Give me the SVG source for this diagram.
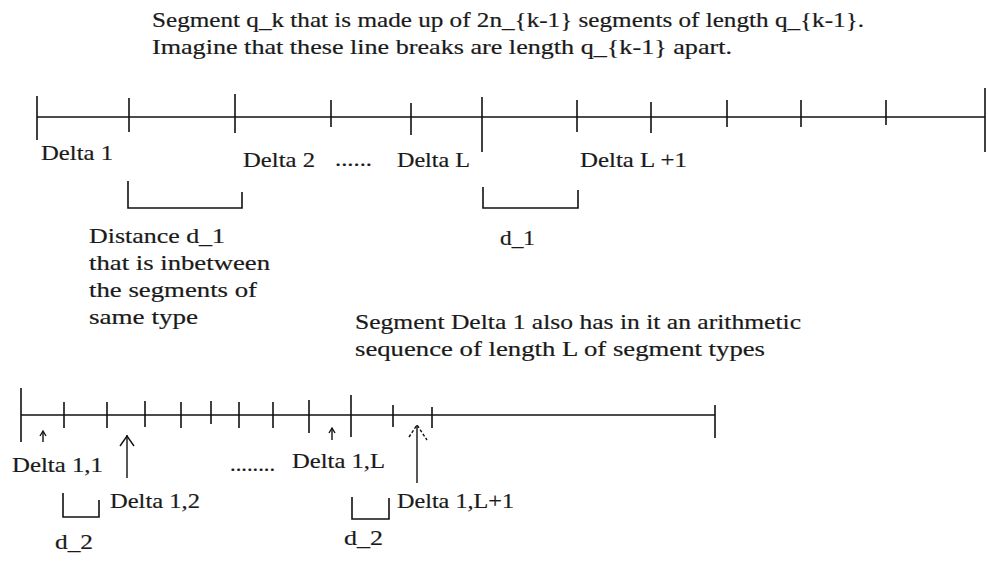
<svg xmlns="http://www.w3.org/2000/svg" width="988" height="561" viewBox="0 0 988 561">
<style>
text{font-family:"Liberation Serif","Times New Roman",serif;font-size:22px;fill:#1a1a1a;stroke:#1a1a1a;stroke-width:0.2}
.ln{stroke:#111;stroke-width:1.6;fill:none}
.ar{stroke:#111;stroke-width:1.4;fill:none}
</style>
<rect width="988" height="561" fill="#fff"/>
<g id="title">
<text x="152" y="27" textLength="712" lengthAdjust="spacingAndGlyphs">Segment q_k that is made up of 2n_{k-1} segments of length q_{k-1}.</text>
<text x="152" y="54" textLength="580" lengthAdjust="spacingAndGlyphs">Imagine that these line breaks are length q_{k-1} apart.</text>
</g>
<g id="connectors">
<g id="top-line" class="ln">
<line x1="37" y1="117" x2="985" y2="117"/>
<line x1="37" y1="96" x2="37" y2="140"/>
<line x1="129" y1="98" x2="129" y2="132"/>
<line x1="235" y1="94" x2="235" y2="133"/>
<line x1="331" y1="100" x2="331" y2="127"/>
<line x1="411" y1="103" x2="411" y2="135"/>
<line x1="482" y1="97" x2="482" y2="152"/>
<line x1="577" y1="100" x2="577" y2="132"/>
<line x1="651" y1="102" x2="651" y2="133"/>
<line x1="727" y1="100" x2="727" y2="127"/>
<line x1="801" y1="100" x2="801" y2="127"/>
<line x1="886" y1="100" x2="886" y2="125"/>
<line x1="985" y1="88" x2="985" y2="152"/>
</g>
<g id="brackets-d1" class="ln">
<polyline points="128,181 128,208 242,208 242,192"/>
<polyline points="483,187 483,208 578,208 578,190"/>
</g>
<g id="bottom-line" class="ln">
<line x1="21" y1="415" x2="715" y2="415"/>
<line x1="21" y1="388" x2="21" y2="442"/>
<line x1="64" y1="402" x2="64" y2="428"/>
<line x1="107" y1="402" x2="107" y2="428"/>
<line x1="145" y1="401" x2="145" y2="427"/>
<line x1="181" y1="402" x2="181" y2="428"/>
<line x1="211" y1="401" x2="211" y2="424"/>
<line x1="239" y1="402" x2="239" y2="428"/>
<line x1="273" y1="402" x2="273" y2="428"/>
<line x1="309" y1="400" x2="309" y2="433"/>
<line x1="351" y1="395" x2="351" y2="437"/>
<line x1="393" y1="405" x2="393" y2="427"/>
<line x1="432" y1="407" x2="432" y2="428"/>
<line x1="715" y1="405" x2="715" y2="438"/>
</g>
<g id="brackets-d2" class="ln">
<polyline points="63,493 63,517 99,517 99,500"/>
<polyline points="352,497 352,519 389,519 389,498"/>
</g>
<g id="arrows" class="ar">
<line x1="43" y1="431" x2="43" y2="442"/>
<polyline points="40,436 43,431 46,436"/>
<line x1="127" y1="435" x2="127" y2="478"/>
<polyline points="120,446 127,436 134,446"/>
<line x1="332" y1="428" x2="332" y2="440"/>
<polyline points="329,433 332,428 335,433"/>
<line x1="417" y1="425" x2="417" y2="483"/>
<polyline points="409,437 417,425 427,440" stroke-dasharray="3 2"/>
</g>
</g>
<g id="top-labels">
<text x="41" y="160" textLength="72" lengthAdjust="spacingAndGlyphs">Delta 1</text>
<text x="243" y="167" textLength="72" lengthAdjust="spacingAndGlyphs">Delta 2</text>
<text x="335" y="166" textLength="37" lengthAdjust="spacingAndGlyphs">......</text>
<text x="397" y="167" textLength="73" lengthAdjust="spacingAndGlyphs">Delta L</text>
<text x="580" y="167" textLength="107" lengthAdjust="spacingAndGlyphs">Delta L +1</text>
</g>
<g id="note-d1">
<text x="89" y="243" textLength="136" lengthAdjust="spacingAndGlyphs">Distance d_1</text>
<text x="89" y="270" textLength="181" lengthAdjust="spacingAndGlyphs">that is inbetween</text>
<text x="89" y="297" textLength="168" lengthAdjust="spacingAndGlyphs">the segments of</text>
<text x="89" y="324" textLength="109" lengthAdjust="spacingAndGlyphs">same type</text>
</g>
<g id="label-d1">
<text x="500" y="245" textLength="35" lengthAdjust="spacingAndGlyphs">d_1</text>
</g>
<g id="note-delta1">
<text x="355" y="329" textLength="446" lengthAdjust="spacingAndGlyphs">Segment Delta 1 also has in it an arithmetic</text>
<text x="355" y="356" textLength="410" lengthAdjust="spacingAndGlyphs">sequence of length L of segment types</text>
</g>
<g id="bottom-labels">
<text x="12" y="472" textLength="91" lengthAdjust="spacingAndGlyphs">Delta 1,1</text>
<text x="110" y="508" textLength="90" lengthAdjust="spacingAndGlyphs">Delta 1,2</text>
<text x="230" y="471" textLength="45" lengthAdjust="spacingAndGlyphs">........</text>
<text x="292" y="468" textLength="93" lengthAdjust="spacingAndGlyphs">Delta 1,L</text>
<text x="397" y="508" textLength="117" lengthAdjust="spacingAndGlyphs">Delta 1,L+1</text>
<text x="55" y="549" textLength="38" lengthAdjust="spacingAndGlyphs">d_2</text>
<text x="344" y="545" textLength="39" lengthAdjust="spacingAndGlyphs">d_2</text>
</g>
</svg>
